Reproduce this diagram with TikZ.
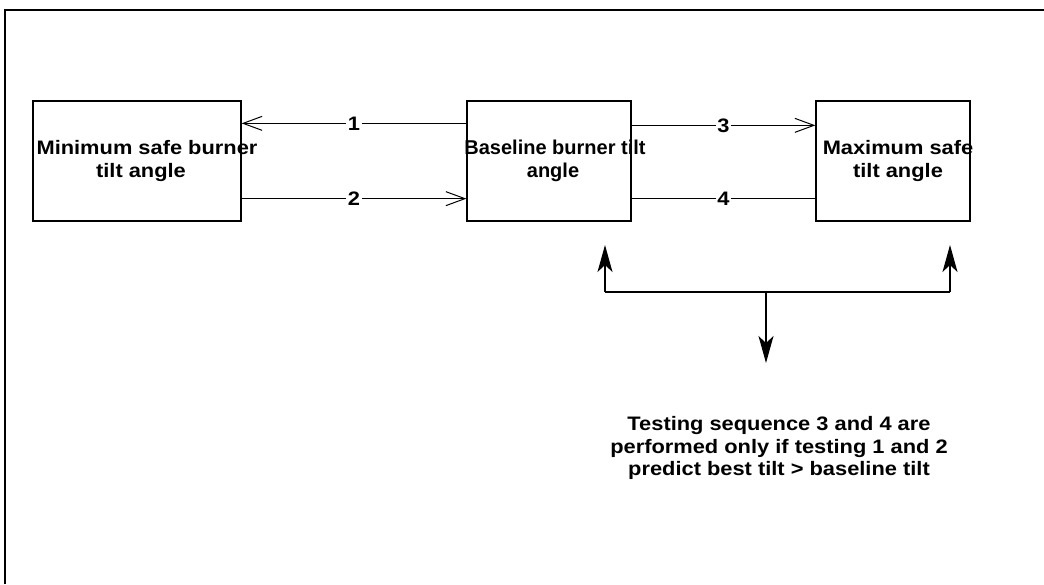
\documentclass[tikz,border=0pt]{standalone}
\usepackage{fontspec}
\setmainfont{Liberation Sans}[FakeStretch=1.12]
\newfontfamily\tightfont{Liberation Sans}[FakeStretch=1.0]
\usetikzlibrary{arrows.meta, positioning, calc}

% a box line centred a little right of the box centre, free to run over the border
\newcommand{\tiltline}[2][10pt]{\makebox[0pt]{\hspace{#1}#2}}

\begin{document}
\begin{tikzpicture}[
        x=1pt, y=-1pt,
        font=\fontsize{19.5}{22.5}\selectfont\bfseries,
        box/.style={draw, line width=1.3pt, minimum height=120pt, inner sep=0pt, align=center},
        flow/.style={line width=1.2pt, -{Straight Barb[length=19pt, width=14pt, line width=1pt]}},
        link/.style={line width=1.2pt},
        pick/.style={line width=1.3pt, -{Stealth[length=27pt, width=15pt, inset=7pt]}},
        num/.style={fill=white, inner sep=1.5pt}
    ]
        \useasboundingbox (0,0) rectangle (1044,584);
        % frame, top and left only
        \draw[line width=2.6pt] (5,584) -- (5,10) -- (1044,10);

        \node[box, minimum width=208pt] (minsafe) at (137,161) {\tiltline[20pt]{Minimum safe burner}\\\tiltline[8pt]{tilt angle}};
        \node[box, minimum width=164pt, font=\fontsize{20}{22.5}\tightfont\bfseries] (baseline) at (549,161) {\tiltline[12pt]{Baseline burner tilt}\\\tiltline[8pt]{angle}};
        \node[box, minimum width=154pt] (maxsafe) at (893,161) {\tiltline{Maximum safe}\\\tiltline{tilt angle}};

        \draw[flow] ([yshift=-23pt]baseline.north west) -- node[num] {1} ([yshift=-23pt]minsafe.north east);
        \draw[flow] ([yshift=23pt]minsafe.south east) -- node[num] {2} ([yshift=23pt]baseline.south west);
        \draw[flow] ([yshift=-25pt]baseline.north east) -- node[num] {3} ([yshift=-25pt]maxsafe.north west);
        \draw[link] ([yshift=23pt]maxsafe.south west) -- node[num] {4} ([yshift=23pt]baseline.south east);

        \coordinate (tap) at (766,292);
        \coordinate (lefttip) at (605,245);
        \coordinate (righttip) at (950,245);
        \coordinate (tapend) at (766,363);
        \draw[link] (lefttip |- tap) -- (righttip |- tap);
        \draw[pick] (lefttip |- tap) -- (lefttip);
        \draw[pick] (righttip |- tap) -- (righttip);
        \draw[pick] (tap) -- (tapend);

        \node[align=center] (note) at (779,448) {Testing sequence 3 and 4 are\\performed only if testing 1 and 2\\predict best tilt > baseline tilt};
    \end{tikzpicture}
\end{document}
